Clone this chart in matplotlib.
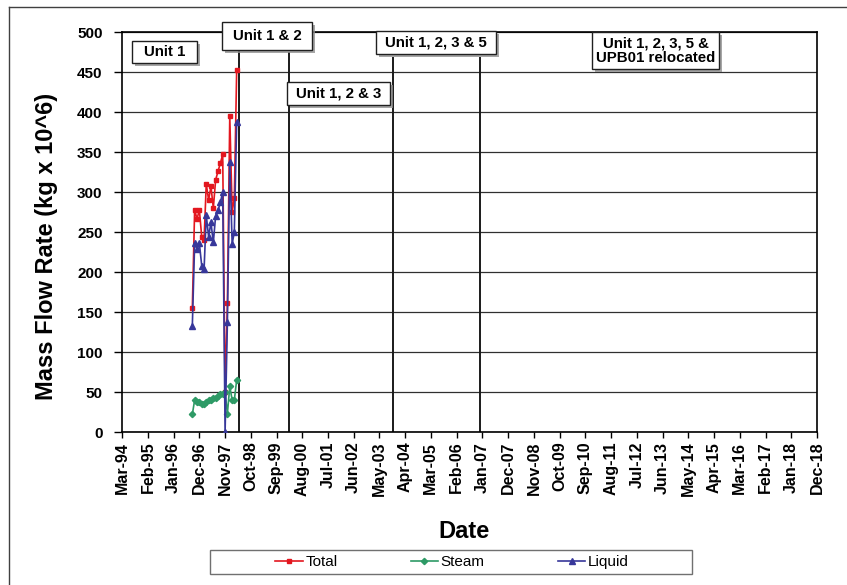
import datetime as dt
import matplotlib
matplotlib.use("Agg")
import matplotlib.pyplot as plt
import matplotlib.dates as mdates
import matplotlib.patheffects as pe
from matplotlib.patches import Rectangle
from matplotlib.lines import Line2D

plt.rcParams['font.family'] = ['Liberation Sans', 'DejaVu Sans']

# monthly readings, Sep-96 .. Apr-98
months = ["1996-09", "1996-10", "1996-11", "1996-12", "1997-01", "1997-02", "1997-03",
          "1997-04", "1997-05", "1997-06", "1997-07", "1997-08", "1997-09", "1997-10",
          "1997-11", "1997-12", "1998-01", "1998-02", "1998-03", "1998-04"]
total = [155, 278, 266, 278, 244, 240, 310, 290, 307, 280, 315, 326, 336, 347,
         50, 161, 395, 275, 292, 453]
steam = [22, 40, 38, 38, 35, 35, 38, 40, 40, 42, 43, 45, 47, 48,
         50, 23, 57, 40, 40, 65]
liquid = [133, 236, 229, 236, 208, 204, 271, 244, 262, 237, 270, 277, 287, 300,
          0, 137, 337, 235, 250, 388]

# stage changes (vertical markers) and their labels
stage_dates = ["1998-05-01", "2000-02-15", "2003-10-28", "2006-12-04"]
stage_tops = [485, 475, 469, 469]
stage_labels = ["Unit 1", "Unit 1 & 2", "Unit 1, 2 & 3", "Unit 1, 2, 3 & 5",
                "Unit 1, 2, 3, 5 &\nUPB01 relocated"]
# label boxes in pixels: x0, x1, y0, y1 (from top)
label_boxes = [(132, 197, 41, 63), (222, 312, 22, 50), (287, 390, 82, 105),
               (376, 496, 31, 54), (592, 719, 32, 69)]

dates = [dt.datetime.strptime(m, "%Y-%m") for m in months]

W, H = 847, 585
fig = plt.figure(figsize=(W / 100, H / 100), dpi=100)
ax = fig.add_axes([122 / W, (H - 432) / H, (817 - 122) / W, 400 / H])

c_total, c_steam, c_liquid = '#e3171f', '#2e9a66', '#37379a'
ax.plot(dates, total, color=c_total, marker='s', ms=3.2, lw=1.2, label='Total', zorder=3)
ax.plot(dates, steam, color=c_steam, marker='D', ms=3.2, lw=1.2, label='Steam', zorder=3)
ax.plot(dates, liquid, color=c_liquid, marker='^', ms=5, lw=1.2, label='Liquid', zorder=4)

for d, top in zip(stage_dates, stage_tops):
    ax.vlines(dt.datetime.strptime(d, "%Y-%m-%d"), 0, top, color='#1a1a1a', lw=1.4, zorder=2)

# x ticks every 11 months from Mar-94
ticks = []
for k in range(0, 298, 11):
    mm = 2 + k
    ticks.append(dt.datetime(1994 + mm // 12, mm % 12 + 1, 1))
ax.set_xlim(ticks[0], ticks[-1])
ax.set_xticks(ticks)
ax.xaxis.set_major_formatter(mdates.DateFormatter('%b-%y'))
ax.set_ylim(0, 500)
ax.set_yticks(range(0, 501, 50))
ax.grid(axis='y', color='#303030', lw=0.9)
ax.set_axisbelow(True)
ax.tick_params(axis='x', labelrotation=90, labelsize=11.5, length=4, width=1, pad=3)
ax.tick_params(axis='y', labelsize=11, length=6, width=1, pad=8)
for lab in ax.get_xticklabels() + ax.get_yticklabels():
    lab.set_fontweight('bold')
for s in ax.spines.values():
    s.set_color('black')
    s.set_linewidth(1.2)

fig.text(47 / W, 1 - 246 / H, 'Mass Flow Rate (kg x 10^6)', rotation=90, ha='center',
         va='center', fontsize=17, fontweight='bold')
fig.text(464 / W, 1 - 531 / H, 'Date', ha='center', va='center', fontsize=17,
         fontweight='bold')

shadow = [pe.SimplePatchShadow(offset=(2.5, -2.5), shadow_rgbFace='#909090', alpha=0.8),
          pe.Normal()]
for txt, (x0, x1, y0, y1) in zip(stage_labels, label_boxes):
    box = Rectangle((x0 / W, 1 - y1 / H), (x1 - x0) / W, (y1 - y0) / H,
                    transform=fig.transFigure, fc='white', ec='#202020', lw=1, zorder=9)
    box.set_path_effects(shadow)
    fig.add_artist(box)
    fig.text((x0 + x1) / 2 / W, 1 - (y0 + y1) / 2 / H, txt, ha='center', va='center',
             fontsize=10.8, fontweight='bold', linespacing=1.0, zorder=10)

leg = fig.legend(loc='center', bbox_to_anchor=(452 / W, 1 - 562 / H), ncol=3,
                 frameon=False, fontsize=11, handlelength=1.8, handletextpad=0.15,
                 columnspacing=4.8, borderpad=0)
fig.add_artist(Rectangle((210 / W, 1 - 574 / H), (692 - 210) / W, 24 / H,
                         transform=fig.transFigure, fill=False, ec='#707070', lw=1))

fig.add_artist(Line2D([9 / W, 9 / W], [0, 1 - 7 / H], transform=fig.transFigure,
                      color='#404040', lw=1))
fig.add_artist(Line2D([9 / W, 1], [1 - 7 / H, 1 - 7 / H], transform=fig.transFigure,
                      color='#404040', lw=1))

fig.savefig('out.png', dpi=100)
